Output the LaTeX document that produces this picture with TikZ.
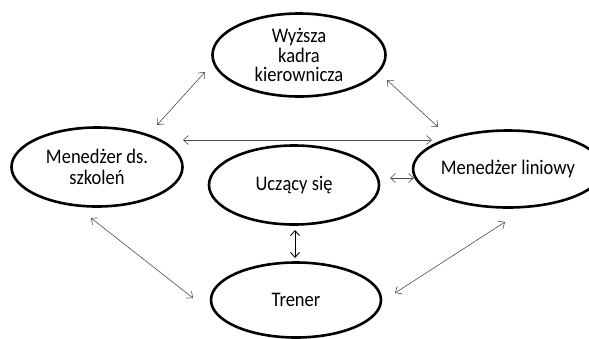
\documentclass[tikz,border=0pt]{standalone}
\usepackage{fontspec}
\setmainfont{Carlito}
\usetikzlibrary{shapes.geometric,arrows.meta}
\newcommand{\tall}[1]{\scalebox{1}[1.12]{#1}}
\begin{document}
\begin{tikzpicture}[x=1pt,y=-1pt,
  role/.style={ellipse,draw=black,line width=2.6pt,inner sep=0pt,
    align=center,font=\fontsize{18.5}{19.5}\selectfont},
  link/.style={draw=black!70,line width=0.6pt,
    {Straight Barb[length=5pt,width=9pt]}-{Straight Barb[length=5pt,width=9pt]}}]
\useasboundingbox (0,0) rectangle (589,338);
\node[role,minimum width=173pt,minimum height=83pt] (top) at (299,55) {\tall{Wyższa}\\\tall{kadra}\\\tall{kierownicza}};
\node[role,minimum width=171pt,minimum height=79pt] (left) at (97,167) {\tall{Menedżer ds.}\\[2pt]\tall{szkoleń}};
\node[role,minimum width=170pt,minimum height=79pt] (mid) at (294,185) {\tall{Uczący się}};
\node[role,minimum width=162pt,minimum height=77pt] (right) at (508,169) {\tall{Menedżer liniowy}};
\node[role,minimum width=170pt,minimum height=75pt] (bot) at (296,300) {\tall{Trener}};
\coordinate (a1) at (157,125); \coordinate (a2) at (205,72);
\coordinate (b1) at (387,80);  \coordinate (b2) at (438,127);
\coordinate (c1) at (183,140); \coordinate (c2) at (432,140);
\coordinate (d1) at (390,178); \coordinate (d2) at (414,178);
\coordinate (e1) at (295,230); \coordinate (e2) at (295,258);
\coordinate (f1) at (91,218);  \coordinate (f2) at (193,298);
\coordinate (g1) at (395,293); \coordinate (g2) at (505,222);
\draw[link] (a1) -- (a2);
\draw[link] (b1) -- (b2);
\draw[link] (c1) -- (c2);
\draw[link] (d1) -- (d2);
\draw[link,draw=black,line width=0.9pt] (e1) -- (e2);
\draw[link] (f1) -- (f2);
\draw[link] (g1) -- (g2);
\end{tikzpicture}
\end{document}
